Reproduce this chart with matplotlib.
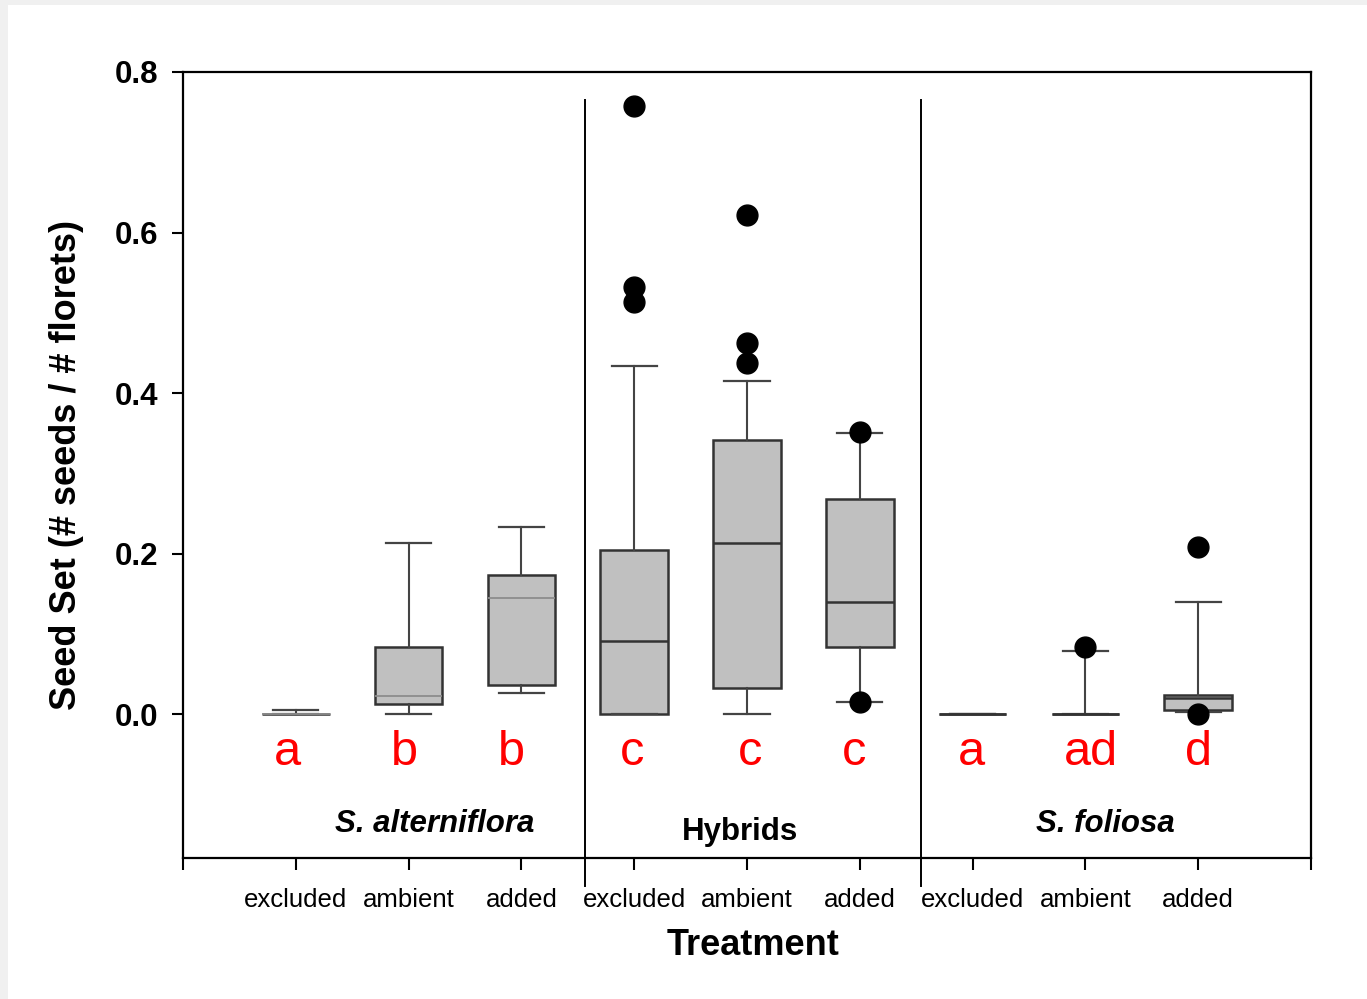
import matplotlib
matplotlib.use("Agg")
import matplotlib.pyplot as plt
from matplotlib.patches import Rectangle

plt.rcParams['font.family'] = ['Liberation Sans', 'DejaVu Sans']

# ---------------- data ----------------
groups = ['S. alterniflora', 'Hybrids', 'S. foliosa']
treatments = ['excluded', 'ambient', 'added']
tick_labels = treatments * 3
positions = [1, 2, 3, 4, 5, 6, 7, 8, 9]

q1 = [0.0, 0.013, 0.036, 0.0, 0.032, 0.084, 0.0, 0.0, 0.005]
med = [0.0, 0.022, 0.145, 0.091, 0.213, 0.139, 0.0, 0.0, 0.0195]
q3 = [0.0, 0.083, 0.173, 0.205, 0.341, 0.268, 0.0, 0.0, 0.024]
whislo = [0.0, 0.0, 0.026, 0.0, 0.0, 0.015, 0.0, 0.0, 0.002]
whishi = [0.005, 0.213, 0.233, 0.434, 0.415, 0.350, 0.0, 0.0785, 0.140]
fliers = [[], [], [],
          [0.758, 0.532, 0.514],
          [0.622, 0.462, 0.437],
          [0.352, 0.0145],
          [], [0.084], [0.2085, 0.0]]

letters = ['a', 'b', 'b', 'c', 'c', 'c', 'a', 'ad', 'd']
letter_x = [0.93, 1.96, 2.91, 3.98, 5.03, 5.95, 6.99, 8.05, 9.0]
group_label_x = [2.23, 4.94, 8.18]
group_bounds = [3.56, 6.54]

# ---------------- figure ----------------
W, H = 1367, 999
fig = plt.figure(figsize=(W / 100, H / 100), dpi=100)
fig.patch.set_facecolor('#f0f0f0')
fig.patches.append(Rectangle((8 / W, 0), 1, (H - 5) / H, transform=fig.transFigure,
                             facecolor='white', edgecolor='none', zorder=-10))

ax = fig.add_axes([183 / W, (H - 858) / H, (1311 - 183) / W, (858 - 72) / H])
ax.set_facecolor('white')

stats = []
for i in range(len(positions)):
    stats.append(dict(med=med[i], q1=q1[i], q3=q3[i], whislo=whislo[i],
                      whishi=whishi[i], fliers=fliers[i]))

bp = ax.bxp(stats, positions=positions, widths=0.6, capwidths=0.4,
            patch_artist=True, showfliers=True,
            boxprops=dict(facecolor='#c0c0c0', edgecolor='#333333', linewidth=1.8),
            medianprops=dict(color='#333333', linewidth=1.8),
            whiskerprops=dict(color='#444444', linewidth=1.5),
            capprops=dict(color='#444444', linewidth=1.6),
            flierprops=dict(marker='o', markerfacecolor='black', markeredgecolor='black',
                            markersize=15, linestyle='none'))
for i, m in enumerate(bp['medians']):
    if i < 3:
        m.set_color('#8c8c8c')
        m.set_linewidth(1.3)

ax.set_xlim(0, 10)
ax.set_ylim(-0.1794, 0.8)

ax.set_yticks([0.0, 0.2, 0.4, 0.6, 0.8])
ax.set_yticklabels(['0.0', '0.2', '0.4', '0.6', '0.8'], fontsize=22.5, fontweight='bold')
ax.set_xticks([0] + positions + [10])
ax.set_xticklabels([''] + tick_labels + [''], fontsize=18.5)

ax.tick_params(axis='y', direction='out', length=8, width=1.5, pad=10)
ax.tick_params(axis='x', direction='out', length=8.5, width=1.5, pad=13)

for s in ax.spines.values():
    s.set_linewidth(1.6)
    s.set_color('black')

# group separators
for xb in group_bounds:
    ax.plot([xb, xb], [-0.214, 0.765], color='black', linewidth=1.4, clip_on=False, zorder=5)

# significance letters
for lx, lt in zip(letter_x, letters):
    ax.text(lx, -0.0636, lt, color='#ff0000', fontsize=35, ha='center', va='baseline')

# group labels
ax.text(group_label_x[0], -0.147, groups[0], fontsize=22.5, fontweight='bold',
        fontstyle='italic', ha='center', va='baseline')
ax.text(group_label_x[1], -0.157, groups[1], fontsize=22.5, fontweight='bold',
        ha='center', va='baseline')
ax.text(group_label_x[2], -0.147, groups[2], fontsize=22.5, fontweight='bold',
        fontstyle='italic', ha='center', va='baseline')

ax.set_ylabel('Seed Set (# seeds / # florets)', fontsize=26, fontweight='bold')
ax.yaxis.set_label_coords(-0.088, 0.5)
ax.set_xlabel('Treatment', fontsize=26, fontweight='bold')
ax.xaxis.set_label_coords(0.505, -0.089)

fig.savefig('out.png', dpi=100, facecolor=fig.get_facecolor())
